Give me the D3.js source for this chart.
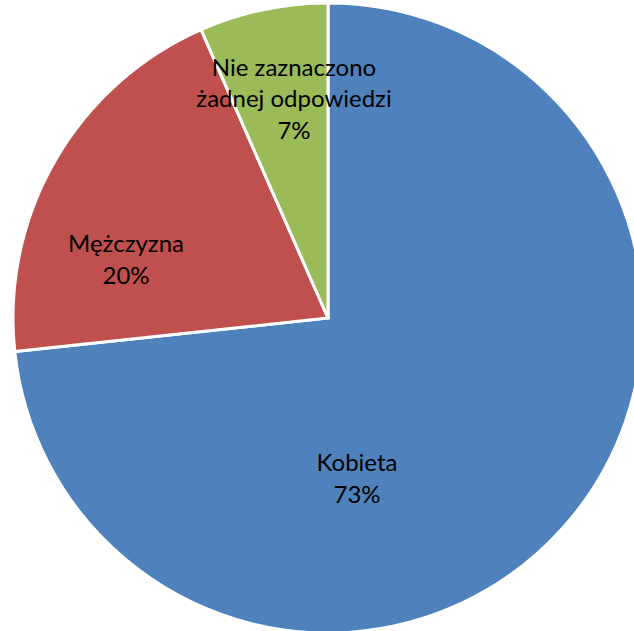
<!DOCTYPE html>
<html>
<head>
<meta charset="utf-8">
<script src="https://cdn.jsdelivr.net/npm/d3@7"></script>
<style>
  body { margin: 0; background: #fff; }
  svg { display: block; }
  text { font-family: Lato, "Liberation Sans", sans-serif; fill: #000; }
</style>
</head>
<body>
<div id="chart"></div>
<script>
// share of answers (percent)
var categories = ["Kobieta", "Mężczyzna", "Nie zaznaczono żadnej odpowiedzi"];
var values = [73.3, 20.1, 6.6];
var colors = ["#4F81BD", "#C0504D", "#9BBB59"];
// label lines as they are wrapped in the picture
var labelLines = [["Kobieta"], ["Mężczyzna"], ["Nie zaznaczono", "żadnej odpowiedzi"]];

var width = 634, height = 631;
var cx = 328, cy = 318, radius = 315;

var svg = d3.select('#chart').append('svg')
    .attr('width', width)
    .attr('height', height);

var g = svg.append('g')
    .attr('transform', 'translate(' + cx + ',' + cy + ')');

var data = categories.map(function(c, i) {
    return { name: c, value: values[i], color: colors[i], lines: labelLines[i] };
});

var pie = d3.pie()
    .sort(null)
    .value(function(d) { return d.value; });

var arc = d3.arc()
    .innerRadius(0)
    .outerRadius(radius);

var total = d3.sum(values);
var arcs = pie(data);

g.selectAll('path.slice')
    .data(arcs)
    .enter().append('path')
    .attr('class', 'slice')
    .attr('d', arc)
    .style('fill', function(d) { return d.data.color; })
    .style('stroke', '#fff')
    .style('stroke-width', 3)
    .style('stroke-linejoin', 'miter');

// label anchors, placed like excel's "best fit" (relative to the pie centre)
var labelPos = {
    "Kobieta": [29, 169],
    "Mężczyzna": [-202, -50],
    "Nie zaznaczono żadnej odpowiedzi": [-34, -211]
};
var lineH = 31.5;

var labels = g.selectAll('text.lbl')
    .data(arcs)
    .enter().append('text')
    .attr('class', 'lbl')
    .attr('text-anchor', 'middle')
    .style('font-size', '24px')
    .attr('transform', function(d) {
        var p = labelPos[d.data.name];
        return 'translate(' + p[0] + ',' + p[1] + ')';
    });

labels.each(function(d) {
    var t = d3.select(this);
    var lines = d.data.lines.concat([Math.round(d.data.value / total * 100) + '%']);
    var y0 = -(lines.length - 1) * lineH / 2;
    lines.forEach(function(l, i) {
        t.append('tspan')
            .attr('x', 0)
            .attr('y', y0 + i * lineH)
            .text(l);
    });
});
</script>
</body>
</html>
